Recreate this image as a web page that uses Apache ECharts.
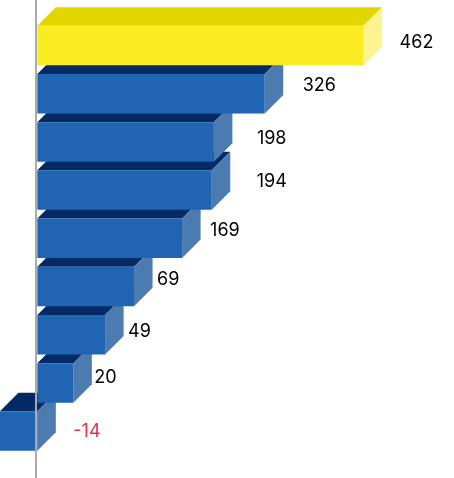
<!DOCTYPE html>
<html>
<head>
<meta charset="utf-8">
<style>html,body{margin:0;padding:0;background:#fff}#c{width:454px;height:478px}</style>
<script src="https://cdn.jsdelivr.net/npm/echarts@6/dist/echarts.min.js"></script>
</head>
<body>
<div id="c"></div>
<script>
// Printed values, as labelled in the picture
const labels = ['462', '326', '198', '194', '169', '69', '49', '20', '-14'];
// Drawn bar lengths (the picture's bars are not proportional to all their labels)
const lengths = [462, 322, 250, 247, 205, 137, 96, 51, -53];

// Layout tweaks for labels, relative to the end of each bar
const labelDx = [36, 38, 43, 45, 28, 23, 23, 21, 36];
const labelDy = [-2.5, -8.6, -3.2, -8.8, -7.4, -7, -3.6, -5.2, 0.2];
const DEPTH = 18.5;

const chart = echarts.init(document.getElementById('c'), null, {renderer: 'canvas'});
const palette = {
  yellow: {front: '#FBEC21', top: '#E3D500', side: '#FDF390'},
  blue: {front: '#2065B3', top: '#042A66', side: '#4C7BB0'}
};
chart.setOption({
  animation: false,
  grid: {left: 2, width: 453.12, top: 21.4, height: 433.8},
  xAxis: {type: 'value', min: -50, max: 590, show: false},
  yAxis: {type: 'category', inverse: true, data: labels, show: false},
  series: [{
    type: 'custom',
    clip: false,
    coordinateSystem: 'cartesian2d',
    encode: {x: 1, y: 0},
    data: lengths.map((v, i) => [i, v]),
    renderItem(params, api) {
      const i = api.value(0), v = api.value(1);
      const zero = api.coord([0, i]);
      const end = api.coord([v, i]);
      const h = api.size([0, 1])[1] * 0.82;
      const c = i === 0 ? palette.yellow : palette.blue;
      const l = Math.min(zero[0], end[0]), r = Math.max(zero[0], end[0]);
      const t = end[1] - h / 2, b = end[1] + h / 2;
      const base = (labels.length - i) * 10;
      const children = [
        {type: 'polygon', z2: base, shape: {points: [[l, t], [l + DEPTH, t - DEPTH], [r + DEPTH, t - DEPTH], [r, t]]}, style: {fill: c.top}},
        {type: 'polygon', z2: base + 1, shape: {points: [[r, t], [r + DEPTH, t - DEPTH], [r + DEPTH, b - DEPTH], [r, b]]}, style: {fill: c.side}},
        {type: 'rect', z2: base + 2, shape: {x: l, y: t, width: r - l, height: b - t}, style: {fill: c.front}},
        {type: 'text', z2: 200, style: {
          x: r + labelDx[i], y: end[1] + labelDy[i], text: labels[i],
          fill: v < 0 ? '#E0313F' : '#000000',
          font: '400 18px Inter', textAlign: 'left', textVerticalAlign: 'middle'
        }}
      ];
      if (i === 0) {
        children.push({type: 'line', z2: 300, shape: {x1: Math.round(zero[0]) - 1, y1: 0, x2: Math.round(zero[0]) - 1, y2: api.getHeight()},
          style: {stroke: '#A9A9B1', lineWidth: 2}});
      }
      return {type: 'group', children};
    }
  }]
});
</script>
</body>
</html>
